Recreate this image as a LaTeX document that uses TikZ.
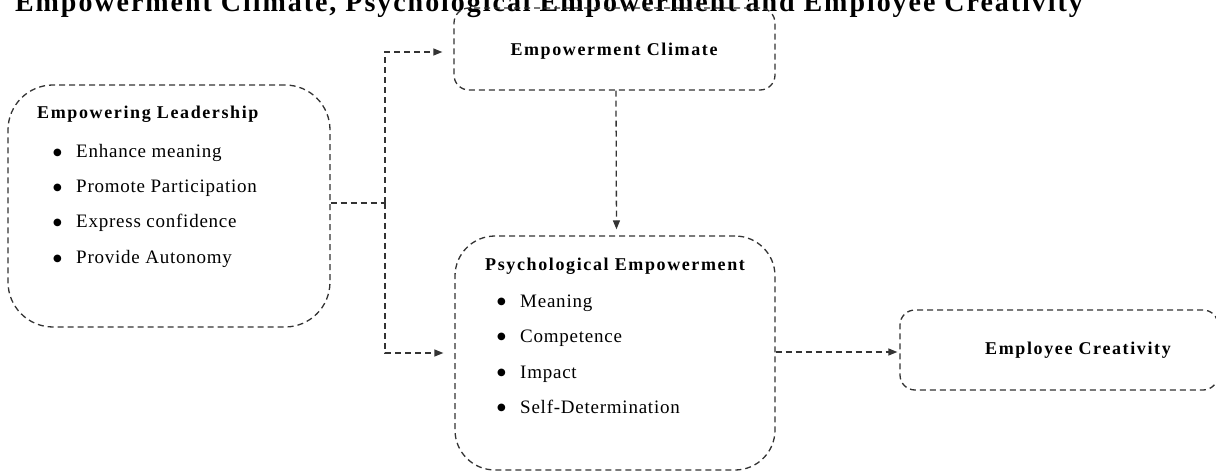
\documentclass[tikz,border=0pt]{standalone}
\usepackage{fontspec}
\setmainfont{Liberation Serif}
\newfontfamily\boxfont[LetterSpace=9]{Liberation Serif}
\newfontfamily\itemfont[LetterSpace=4]{Liberation Serif}
\newfontfamily\titlefont[LetterSpace=7]{Liberation Serif}
\newfontfamily\dejavu{DejaVu Sans}
\newcommand{\bul}{\makebox[24pt][l]{\hspace{1pt}\raisebox{2.5pt}{\dejavu\fontsize{10}{10}\selectfont ●}}}
\usetikzlibrary{arrows.meta}
\begin{document}
\begin{tikzpicture}[x=1pt,y=-1pt,
  box/.style={draw=black!80,line width=1.3pt,dash pattern=on 6pt off 4pt,inner sep=0pt,rectangle},
  conn/.style={draw=black!80,line width=1.3pt,dash pattern=on 6pt off 4pt},
  arr/.style={conn,-{Triangle[length=9pt,width=7pt]}},
  head/.style={font=\boxfont\fontsize{18}{21}\selectfont\bfseries,inner sep=0pt,anchor=base west},
  item/.style={font=\itemfont\fontsize{19}{22}\selectfont,inner sep=0pt,anchor=base west}]
\useasboundingbox (0,0) rectangle (1216,473);
\clip (0,0) rectangle (1216,473);
\node[font=\titlefont\fontsize{28}{32}\selectfont\bfseries,inner sep=0pt,anchor=base] (title) at (549,12) {Empowerment Climate, Psychological Empowerment and Employee Creativity};
% boxes
\node[box,rounded corners=45pt,minimum width=322pt,minimum height=242pt] (lead) at (169,206) {};
\node[box,rounded corners=15pt,minimum width=321pt,minimum height=82pt] (clim) at (614.5,49) {};
\node[box,rounded corners=40pt,minimum width=320pt,minimum height=234pt] (psych) at (615,353) {};
\node[box,rounded corners=15pt,minimum width=318pt,minimum height=80pt] (creat) at (1059,350) {};
% texts
\node[head] (leadh) at (37,119) {Empowering Leadership};
\node[item] (l1) at (52,158) {\bul Enhance meaning};
\node[item] (l2) at (52,193) {\bul Promote Participation};
\node[item] (l3) at (52,228) {\bul Express confidence};
\node[item] (l4) at (52,264) {\bul Provide Autonomy};
\node[head,anchor=base] (climh) at (614,56) {Empowerment Climate};
\node[head] (psychh) at (485,270) {Psychological Empowerment};
\node[item] (p1) at (496,307) {\bul Meaning};
\node[item] (p2) at (496,342) {\bul Competence};
\node[item] (p3) at (496,378) {\bul Impact};
\node[item] (p4) at (496,413) {\bul Self-Determination};
\node[head,anchor=base] (creath) at (1078,354) {Employee Creativity};
% connectors
\coordinate (j) at (385,203);
\draw[conn] (lead.east |- j) -- (j);
\draw[arr,shorten >=11pt] (j) |- ([yshift=-3pt]clim.west);
\draw[arr,shorten >=11pt] (j) |- (psych.west);
\draw[arr,shorten >=6pt] ([xshift=1.5pt]clim.south) -- ([xshift=1.5pt]psych.north);
\draw[arr,shorten >=2pt] ([yshift=1pt]psych.east) -- ([yshift=1pt]psych.east -| creat.west);
\end{tikzpicture}
\end{document}
